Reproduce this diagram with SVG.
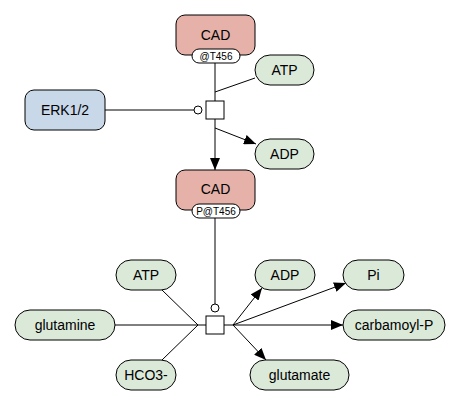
<svg xmlns="http://www.w3.org/2000/svg" width="459" height="405" viewBox="0 0 459 405">
<defs>
<style>
text{font-family:"Liberation Sans",Arial,sans-serif;fill:#000;text-anchor:middle;dominant-baseline:central}
.mac{fill:#e5b1a8;stroke:#000;stroke-width:1}
.erk{fill:#c8d8e9;stroke:#000;stroke-width:1}
.chem{fill:#dbe9d9;stroke:#000;stroke-width:1}
.sv{fill:#fff;stroke:#000;stroke-width:1}
.lbl{font-size:14px}
.svt{font-size:10px}
.e{stroke:#000;stroke-width:1;fill:none}
.pn{fill:#fff;stroke:#000;stroke-width:1}
</style>
<marker id="arr" viewBox="0 0 12 10" refX="12" refY="5" markerWidth="12" markerHeight="10" markerUnits="userSpaceOnUse" orient="auto">
<path d="M0,0 L12,5 L0,10 Z" fill="#000"/>
</marker>
</defs>
<g id="connectors">
<line class="e" x1="215" y1="63" x2="215" y2="101"/>
<line class="e" x1="255" y1="78" x2="215" y2="92"/>
<line class="e" x1="215" y1="119" x2="215" y2="170" marker-end="url(#arr)"/>
<line class="e" x1="215" y1="128" x2="256" y2="144" marker-end="url(#arr)"/>
<line class="e" x1="105" y1="110" x2="194" y2="110"/>
<circle class="pn" cx="198" cy="110" r="4"/>
<line class="e" x1="215" y1="218" x2="215" y2="304"/>
<circle class="pn" cx="215" cy="308" r="4"/>
<line class="e" x1="115" y1="325" x2="206" y2="325"/>
<line class="e" x1="162" y1="290" x2="198" y2="325"/>
<line class="e" x1="162" y1="360" x2="198" y2="325"/>
<line class="e" x1="224" y1="325" x2="233" y2="325"/>
<line class="e" x1="233" y1="325" x2="262" y2="288" marker-end="url(#arr)"/>
<line class="e" x1="233" y1="325" x2="346" y2="283" marker-end="url(#arr)"/>
<line class="e" x1="233" y1="325" x2="343" y2="325" marker-end="url(#arr)"/>
<line class="e" x1="233" y1="325" x2="266" y2="360" marker-end="url(#arr)"/>
</g>
<g id="process1"><rect class="pn" x="206" y="101" width="18" height="18"/></g>
<g id="process2"><rect class="pn" x="206" y="316" width="18" height="18"/></g>
<g id="cad1">
<rect class="mac" x="176" y="15" width="79" height="40" rx="9"/>
<text class="lbl" x="215.5" y="35">CAD</text>
<rect class="sv" x="192" y="49" width="48" height="14" rx="7"/>
<text class="svt" x="216" y="56.5">@T456</text>
</g>
<g id="cad2">
<rect class="mac" x="176" y="170" width="79" height="40" rx="9"/>
<text class="lbl" x="215.5" y="189">CAD</text>
<rect class="sv" x="192" y="204" width="48" height="14" rx="7"/>
<text class="svt" x="216" y="211.5">P@T456</text>
</g>
<g id="erk">
<rect class="erk" x="25" y="90" width="80" height="40" rx="9"/>
<text class="lbl" x="65" y="110">ERK1/2</text>
</g>
<g id="atp1">
<rect class="chem" x="255" y="55" width="59" height="30" rx="15"/>
<text class="lbl" x="284.5" y="70">ATP</text>
</g>
<g id="adp1">
<rect class="chem" x="255" y="139" width="59" height="30" rx="15"/>
<text class="lbl" x="284.5" y="154">ADP</text>
</g>
<g id="atp2">
<rect class="chem" x="116" y="260" width="60" height="30" rx="15"/>
<text class="lbl" x="146" y="275">ATP</text>
</g>
<g id="glutamine">
<rect class="chem" x="15" y="310" width="100" height="30" rx="15"/>
<text class="lbl" x="65" y="325">glutamine</text>
</g>
<g id="hco3">
<rect class="chem" x="116" y="360" width="60" height="30" rx="15"/>
<text class="lbl" x="146" y="375">HCO3-</text>
</g>
<g id="adp2">
<rect class="chem" x="255" y="260" width="60" height="30" rx="15"/>
<text class="lbl" x="285" y="275">ADP</text>
</g>
<g id="pi">
<rect class="chem" x="343" y="260" width="61" height="30" rx="15"/>
<text class="lbl" x="373.5" y="275">Pi</text>
</g>
<g id="carbamoylP">
<rect class="chem" x="343" y="310" width="102" height="30" rx="15"/>
<text class="lbl" x="394" y="325">carbamoyl-P</text>
</g>
<g id="glutamate">
<rect class="chem" x="250" y="360" width="99" height="30" rx="15"/>
<text class="lbl" x="299.5" y="375">glutamate</text>
</g>
</svg>
